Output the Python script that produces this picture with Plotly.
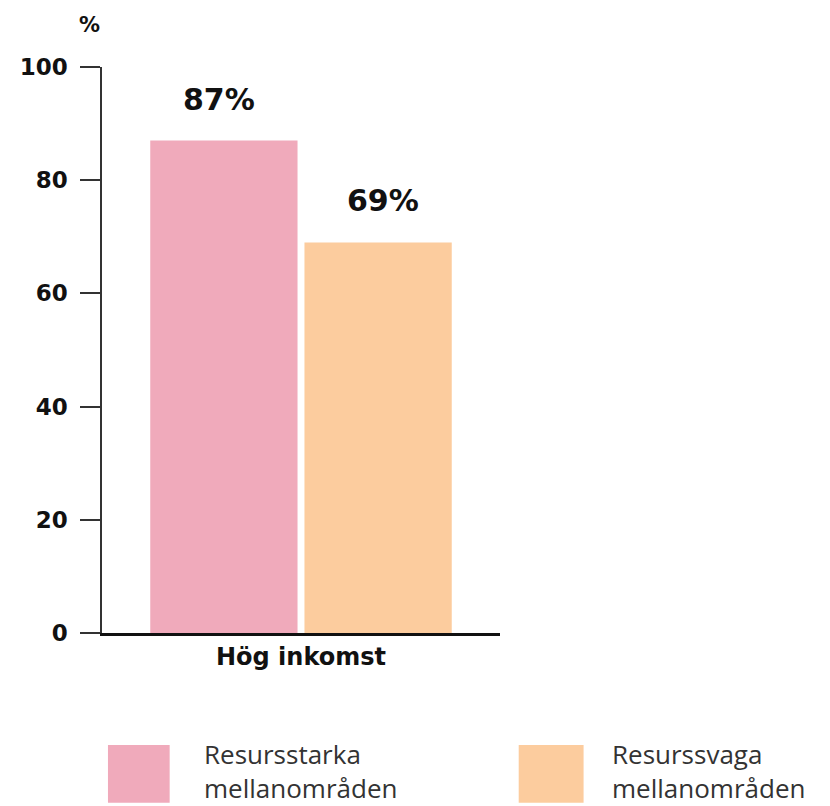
import plotly.graph_objects as go

categories = ['Hög inkomst']
series_names = ['Resursstarka<br>mellanområden', 'Resurssvaga<br>mellanområden']
values_starka = [87]
values_svaga = [69]
y_ticks = [0, 20, 40, 60, 80, 100]

pink = '#F0AABB'
orange = '#FCCC9E'
ink = '#111111'
num_font = 'DejaVu Sans'

fig = go.Figure()
fig.add_trace(go.Bar(x=categories, y=values_starka, name=series_names[0],
                     marker_color=pink, marker_line_width=0, showlegend=False))
fig.add_trace(go.Bar(x=categories, y=values_svaga, name=series_names[1],
                     marker_color=orange, marker_line_width=0, showlegend=False))

# value labels above the bars
for vals, shift in [(values_starka, -82), (values_svaga, 82)]:
    for c, v in zip(categories, vals):
        fig.add_annotation(x=c, y=v, text=f'{v}%', showarrow=False, xshift=shift,
                           xanchor='center', yanchor='bottom', yshift=22,
                           font=dict(family=num_font, size=30, color=ink, weight='bold'))

# unit label
fig.add_annotation(xref='paper', yref='paper', x=-0.032, y=1.075, text='%', showarrow=False,
                   xanchor='center', yanchor='middle',
                   font=dict(family=num_font, size=21, color=ink, weight='bold'))

# legend drawn by hand (big squares)
legend_items = [(pink, 0.015, 0.170, 0.252), (orange, 1.047, 1.210, 1.277)]
for (col, x0, x1, tx), name in zip(legend_items, series_names):
    fig.add_shape(type='rect', xref='paper', yref='paper', x0=x0, x1=x1, y0=-0.198, y1=-0.300,
                  fillcolor=col, line_width=0)
    fig.add_annotation(xref='paper', yref='paper', x=tx, y=-0.244, text=name, showarrow=False,
                       xanchor='left', yanchor='middle', align='left',
                       font=dict(family='Open Sans', size=26, color='#333333'))

fig.update_layout(
    width=822, height=798,
    margin=dict(l=87, r=330, t=59, b=173),
    paper_bgcolor='white', plot_bgcolor='white',
    barmode='group', bargap=0.225, bargroupgap=0.045,
)
fig.update_yaxes(range=[0, 100], tickvals=y_ticks, showgrid=False, zeroline=False,
                 showline=True, linecolor='#333333', linewidth=1.5,
                 ticks='outside', ticklen=20, tickwidth=1.5, tickcolor='#333333',
                 ticklabelstandoff=8,
                 tickfont=dict(family=num_font, size=23, color=ink, weight='bold'))
fig.update_xaxes(showgrid=False, showline=True, linecolor='#111111', linewidth=3,
                 ticks='', tickfont=dict(family=num_font, size=24, color=ink, weight='bold'))

fig.write_html('out.html')
